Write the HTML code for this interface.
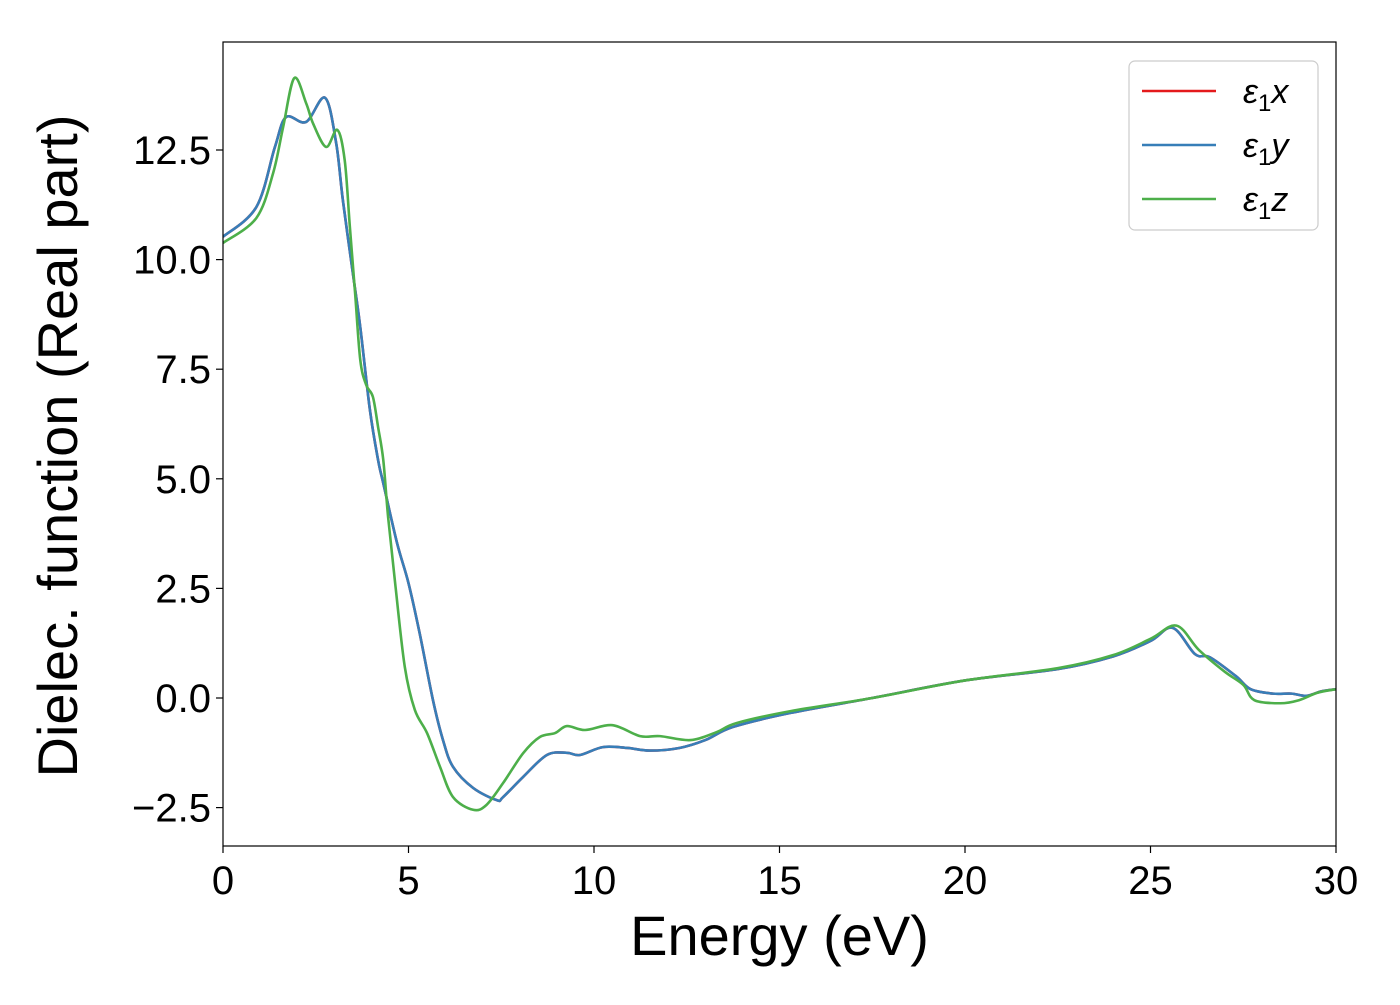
<!DOCTYPE html>
<html><head><meta charset="utf-8"><style>
body{margin:0;background:#fff;}
svg text{font-family:"Liberation Sans","DejaVu Sans",sans-serif;fill:#000;}
</style></head><body>
<svg id="chart" width="1400" height="1000" xmlns="http://www.w3.org/2000/svg">
<g id="plot"></g>
</svg>
<script>
const xTicks=[0,5,10,15,20,25,30];
const xTickLabels=["0","5","10","15","20","25","30"];
const yTicks=[-2.5,0,2.5,5,7.5,10,12.5];
const yTickLabels=["\u22122.5","0.0","2.5","5.0","7.5","10.0","12.5"];
const energyXY=[0,0.9,1.4,1.7,2.24,2.75,3.05,3.23,3.5,3.7,3.96,4.18,4.32,4.69,5.0,5.3,5.66,5.93,6.2,6.74,7.38,7.55,8.09,8.73,9.27,9.62,10.24,10.9,11.5,12.3,13.0,13.75,15.3,17.5,20,22.5,24,25,25.6,26.2,26.6,27.3,27.7,28.3,28.8,29.2,29.6,30];
const eps1x=[10.52,11.2,12.57,13.25,13.14,13.69,12.66,11.36,9.69,8.46,6.57,5.43,4.9,3.54,2.62,1.48,-0.05,-0.96,-1.57,-2.05,-2.33,-2.26,-1.8,-1.3,-1.25,-1.3,-1.12,-1.14,-1.2,-1.14,-0.96,-0.66,-0.34,0.0,0.4,0.66,0.95,1.3,1.6,1.0,0.93,0.5,0.2,0.1,0.1,0.05,0.15,0.2];
const eps1y=eps1x.slice();
const energyZ=[0,0.9,1.35,1.62,1.92,2.24,2.43,2.78,3.08,3.28,3.42,3.56,3.7,3.86,4.04,4.18,4.32,4.45,4.64,4.9,5.17,5.5,5.85,6.2,6.74,7.1,7.55,8.09,8.54,8.95,9.27,9.76,10.5,11.24,11.78,12.6,13.3,13.85,15.3,17.5,20,22.5,24,25,25.7,26.3,27.0,27.5,27.8,28.5,29.0,29.5,30];
const eps1z=[10.38,10.95,11.97,13.02,14.14,13.57,13.1,12.57,12.96,12.27,10.74,9.24,7.71,7.14,6.87,6.18,5.43,4.13,2.62,0.71,-0.27,-0.8,-1.57,-2.26,-2.55,-2.44,-1.94,-1.26,-0.89,-0.8,-0.64,-0.73,-0.62,-0.87,-0.87,-0.96,-0.78,-0.57,-0.3,0.0,0.4,0.68,0.98,1.35,1.65,1.1,0.6,0.3,-0.05,-0.12,-0.05,0.12,0.2];

const NS="http://www.w3.org/2000/svg";
const L=223,R=1336,T=42,B=846;
const xMin=0,xMax=30,yZero=698,yPer=43.84;
function sx(v){return L+(v-xMin)/(xMax-xMin)*(R-L);}
function sy(v){return yZero-v*yPer;}
const g=document.getElementById('plot');
function mk(tag,attrs){const e=document.createElementNS(NS,tag);for(const k in attrs)e.setAttribute(k,attrs[k]);g.appendChild(e);return e;}
function pathFor(xs,ys){
  const p=xs.map((x,i)=>[sx(x),sy(ys[i])]);
  let d="M"+p[0][0]+","+p[0][1];
  for(let i=0;i<p.length-1;i++){
    const p0=p[Math.max(0,i-1)],p1=p[i],p2=p[i+1],p3=p[Math.min(p.length-1,i+2)];
    const c1=[p1[0]+(p2[0]-p0[0])/6,p1[1]+(p2[1]-p0[1])/6];
    const c2=[p2[0]-(p3[0]-p1[0])/6,p2[1]-(p3[1]-p1[1])/6];
    d+=" C"+c1[0]+","+c1[1]+" "+c2[0]+","+c2[1]+" "+p2[0]+","+p2[1];
  }
  return d;
}
const defs=mk('clipPath',{id:'clip'});
const cr=document.createElementNS(NS,'rect');cr.setAttribute('x',L);cr.setAttribute('y',T);cr.setAttribute('width',R-L);cr.setAttribute('height',B-T);defs.appendChild(cr);

const series=[[energyXY,eps1x,'#e41a1c','series-eps1x'],[energyXY,eps1y,'#377eb8','series-eps1y'],[energyZ,eps1z,'#4daf4a','series-eps1z']];
series.forEach(s=>{
  const p=mk('path',{d:pathFor(s[0],s[1]),fill:'none',stroke:s[2],'stroke-width':2.6,'clip-path':'url(#clip)'});
  
  
});
const frame=mk('rect',{x:L,y:T,width:R-L,height:B-T,fill:'none',stroke:'#000','stroke-width':1.2});



xTicks.forEach((v,i)=>{
  const t=mk('line',{x1:sx(v),x2:sx(v),y1:B,y2:B+7,stroke:'#000','stroke-width':1.2});
  
  
  const tx=mk('text',{x:sx(v),y:B+48,'text-anchor':'middle','font-size':40});
  tx.textContent=xTickLabels[i];
  
  
});
yTicks.forEach((v,i)=>{
  const t=mk('line',{x1:L-7,x2:L,y1:sy(v),y2:sy(v),stroke:'#000','stroke-width':1.2});
  
  
  const tx=mk('text',{x:L-12,y:sy(v)+14,'text-anchor':'end','font-size':40});
  tx.textContent=yTickLabels[i];
  
  
});
const xl=mk('text',{x:(L+R)/2,y:955,'text-anchor':'middle','font-size':56});
xl.textContent='Energy (eV)';


const yl=mk('text',{x:0,y:0,'text-anchor':'middle','font-size':56,transform:'translate(77,446) rotate(-90)'});
yl.textContent='Dielec. function (Real part)';



const lg=mk('rect',{x:1129,y:61,width:189,height:169,rx:6,fill:'#fff',stroke:'#ccc','stroke-width':1.2});


const names=['x','y','z'];
series.forEach((s,i)=>{
  const y=91+i*54;
  const ln=mk('line',{x1:1142,x2:1216,y1:y,y2:y,stroke:s[2],'stroke-width':2.6});
  
  
  const t=mk('text',{x:1243,y:y+12,'font-size':34,'font-style':'italic'});
  t.innerHTML='\u03b5<tspan font-style="normal" font-size="24" dy="8">1</tspan><tspan dy="-8">'+names[i]+'</tspan>';
  
  
});
</script>
</body></html>
